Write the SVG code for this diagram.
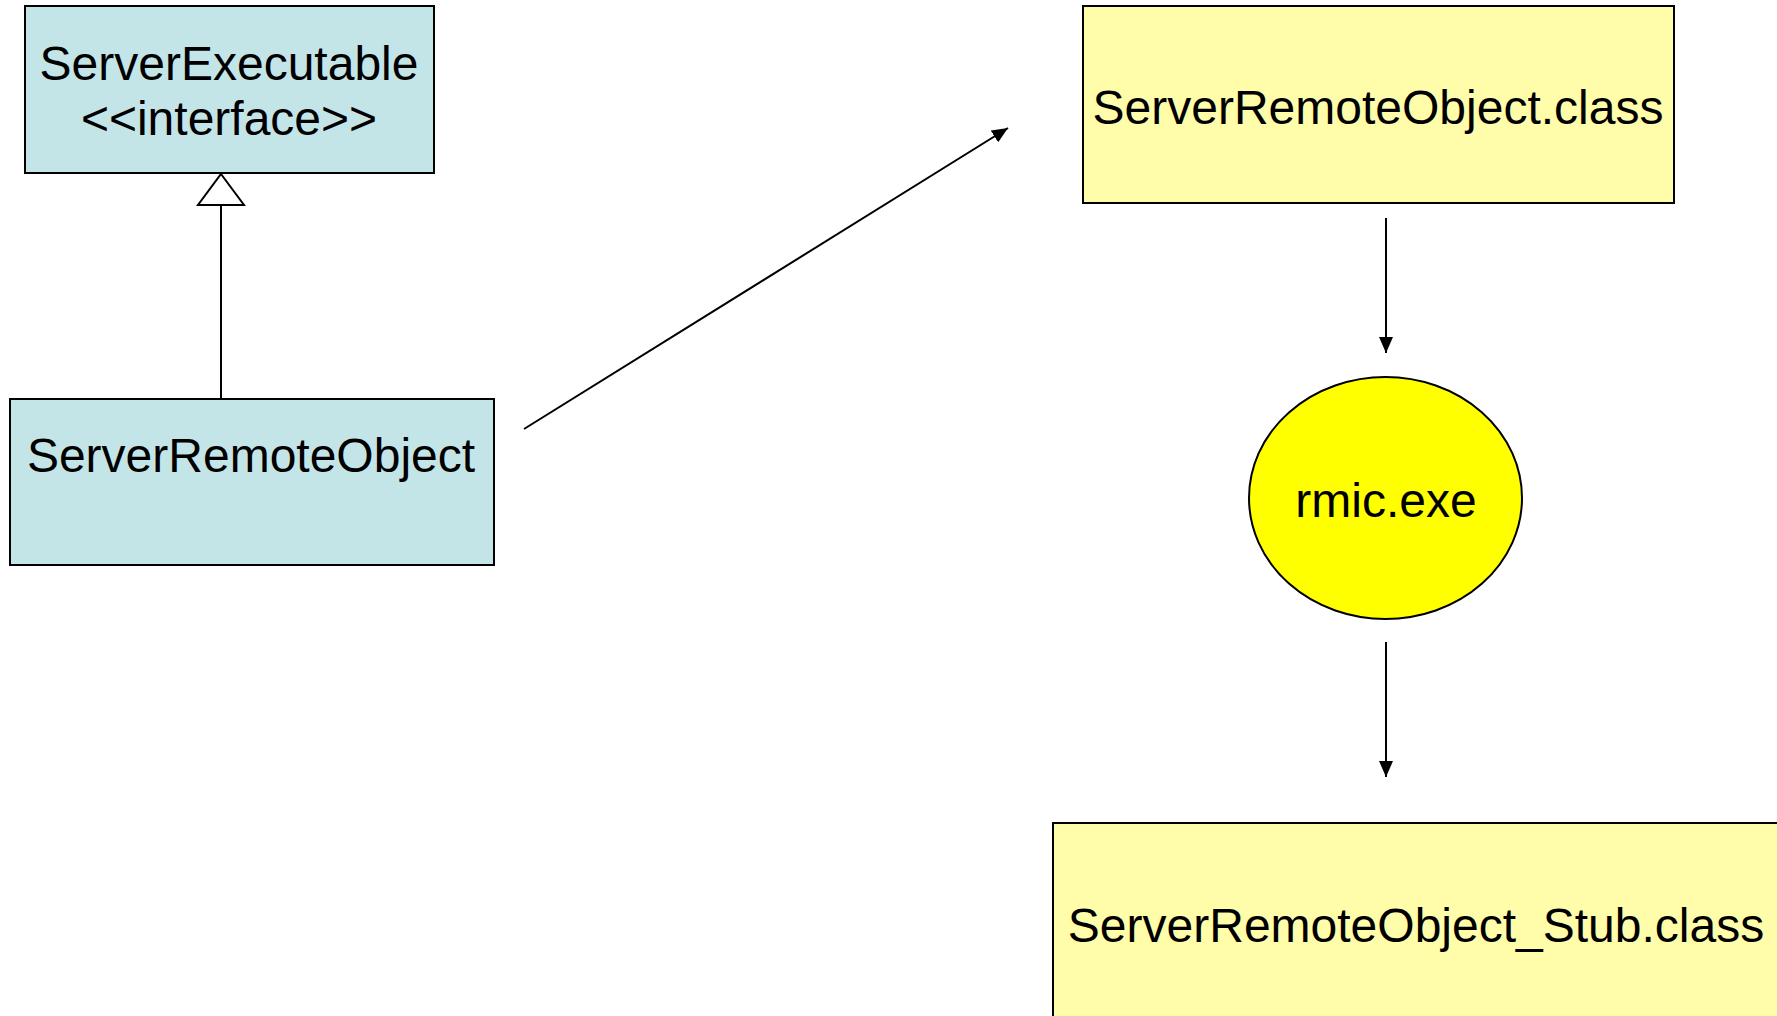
<svg xmlns="http://www.w3.org/2000/svg" width="1777" height="1016" viewBox="0 0 1777 1016">
<style>
.blue{fill:#C4E5E8;stroke:#000;stroke-width:2}
.lyel{fill:#FFFCAA;stroke:#000;stroke-width:2}
.yel{fill:#FFFF00;stroke:#000;stroke-width:2}
text{font-family:"Liberation Sans",Arial,sans-serif;font-size:48px;fill:#000;text-anchor:middle}
.conn{stroke:#000;stroke-width:2;fill:none}
</style>
<defs>
<marker id="arr" markerUnits="userSpaceOnUse" markerWidth="16" markerHeight="14" refX="16" refY="7" orient="auto">
<path d="M0,0 L16,7 L0,14 Z" fill="#000"/>
</marker>
</defs>
<rect width="1777" height="1016" fill="#fff"/>
<g id="serverExecutable">
<rect class="blue" x="25" y="6" width="409" height="167"/>
<text x="229" y="80">ServerExecutable</text>
<text x="229" y="135">&lt;&lt;interface&gt;&gt;</text>
</g>
<g id="serverRemoteObject">
<rect class="blue" x="10" y="399" width="484" height="166"/>
<text x="251" y="472">ServerRemoteObject</text>
</g>
<g id="serverRemoteObjectClass">
<rect class="lyel" x="1083" y="6" width="591" height="197"/>
<text x="1378" y="124">ServerRemoteObject.class</text>
</g>
<g id="rmic">
<ellipse class="yel" cx="1385.5" cy="498" rx="136.5" ry="121"/>
<text x="1386" y="517">rmic.exe</text>
</g>
<g id="stubClass">
<rect class="lyel" x="1053" y="823" width="726" height="210"/>
<text x="1416" y="942">ServerRemoteObject_Stub.class</text>
</g>
<g id="connectors">
<line class="conn" x1="221" y1="399" x2="221" y2="205"/>
<polygon points="221,174 244,205 198,205" fill="#fff" stroke="#000" stroke-width="2"/>
<line class="conn" x1="524" y1="429" x2="1008" y2="128" marker-end="url(#arr)"/>
<line class="conn" x1="1386" y1="218" x2="1386" y2="353" marker-end="url(#arr)"/>
<line class="conn" x1="1386" y1="642" x2="1386" y2="777" marker-end="url(#arr)"/>
</g>
</svg>
